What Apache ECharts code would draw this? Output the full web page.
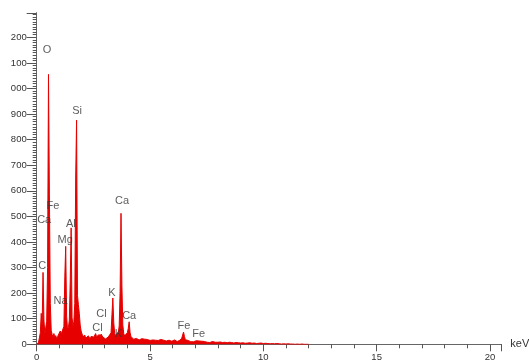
<!DOCTYPE html>
<html>
<head>
<meta charset="utf-8">
<script src="https://cdn.jsdelivr.net/npm/echarts@6/dist/echarts.min.js"></script>
<style>
  html, body { margin: 0; padding: 0; background: #fff; overflow: hidden; width: 529px; height: 360px; }
  #chart { position: absolute; left: 11px; top: 0; width: 518px; height: 360px; }
</style>
</head>
<body>
<div id="chart"></div>
<script>
// EDS spectrum: counts per channel, channels 0.04 keV wide from 0 to 8 keV
const lowStartKeV = 0;
const lowStepKeV = 0.04;
const countsLow = [
  0, 0, 8, 25, 45, 121, 70, 281, 95, 40,
  35, 90, 300, 1055, 587, 160, 55, 38, 30, 42,
  26, 34, 22, 30, 25, 36, 52, 40, 33, 45,
  70, 264, 383, 110, 58, 66, 95, 251, 455, 105,
  72, 88, 160, 650, 876, 190, 155, 120, 75, 52,
  40, 34, 28, 36, 24, 30, 22, 33, 26, 20,
  31, 25, 35, 28, 32, 42, 30, 26, 34, 38,
  30, 40, 33, 28, 24, 30, 21, 27, 23, 29,
  25, 34, 45, 115, 181, 85, 42, 34, 30, 38,
  45, 72, 205, 512, 230, 75, 42, 33, 28, 36,
  45, 62, 88, 46, 30, 24, 28, 20, 25, 18,
  23, 19, 24, 17, 21, 16, 22, 18, 15, 20,
  17, 14, 19, 16, 21, 15, 18, 13, 17, 20,
  14, 16, 12, 18, 15, 13, 17, 19, 14, 12,
  16, 14, 18, 13, 15, 11, 16, 20, 14, 12,
  15, 13, 17, 12, 14, 11, 15, 13, 16, 19,
  24, 36, 48, 30, 18, 14, 12, 15, 11, 13,
  10, 12, 14, 10, 12, 11, 14, 16, 19, 13,
  11, 9, 12, 10, 8, 11, 9, 12, 8, 10,
  9, 7, 10, 8, 11, 7, 9, 8, 10, 7,
  8
];
// High-energy tail, 0.1 keV channels from 8.1 to 12.0 keV
const tailStartKeV = 8.1;
const tailStepKeV = 0.1;
const countsTail = [
  9, 7, 8, 6, 8, 7, 5, 7, 6, 5,
  6, 4, 5, 6, 4, 5, 3, 4, 5, 3,
  4, 3, 2, 3, 2, 3, 2, 1, 2, 1,
  2, 1, 1, 0, 1, 0, 1, 0, 0, 0
];

// Element labels and where they sit (keV, counts)
const peakNames  = ['O', 'Si', 'Fe', 'Ca', 'Al', 'Mg', 'C', 'Na', 'K', 'Cl', 'Ca', 'Cl', 'K', 'Ca', 'Fe', 'Fe'];
const peakKeV    = [0.46, 1.78, 0.72, 0.33, 1.51, 1.26, 0.24, 1.05, 3.32, 2.86, 4.08, 2.68, 3.61, 3.77, 6.50, 7.15];
const peakCounts = [1150, 911, 540, 485, 470, 407, 307, 169, 199, 117, 112, 62, 40, 560, 73, 40];

const xMin = 0, xMax = 20.5, xInterval = 5;
const yMin = 0, yMax = 1295, yInterval = 100;

const spectrum = [];
countsLow.forEach((c, i) => spectrum.push([+(lowStartKeV + i * lowStepKeV).toFixed(2), c]));
countsTail.forEach((c, i) => spectrum.push([+(tailStartKeV + i * tailStepKeV).toFixed(2), c]));

const peakLabels = peakNames.map((n, i) => ({ value: [peakKeV[i], peakCounts[i]], name: n }));

const red = '#e60000';
const axisColor = '#555';
const textColor = '#333';
const fontFamily = '"Liberation Sans", Arial, sans-serif';

const chart = echarts.init(document.getElementById('chart'), null, { renderer: 'canvas' });
chart.setOption({
  animation: false,
  backgroundColor: '#fff',
  grid: { left: 25.7, right: 27.7, top: 13, bottom: 15.7, containLabel: false, outerBoundsMode: 'none' },
  xAxis: [{
    type: 'value', min: xMin, max: xMax, interval: xInterval,
    name: 'keV', nameLocation: 'end', nameGap: 9,
    nameTextStyle: { color: textColor, fontSize: 11, fontFamily, padding: [0, 0, 8, 0] },
    axisLine: { show: true, lineStyle: { color: axisColor, width: 1 } },
    axisTick: { show: true, length: 7, lineStyle: { color: axisColor } },
    minorTick: { show: true, splitNumber: 5, length: 4, lineStyle: { color: axisColor } },
    axisLabel: { color: textColor, fontSize: 9.5, fontFamily, margin: 8, showMaxLabel: false, formatter: v => String(v) },
    splitLine: { show: false }
  }, {
    type: 'value', position: 'top', min: xMin, max: xMax,
    axisLine: { show: true, lineStyle: { color: '#666', width: 1 } },
    axisTick: { show: false }, axisLabel: { show: false }, splitLine: { show: false }
  }],
  yAxis: [{
    type: 'value', min: yMin, max: yMax, interval: yInterval,
    axisLine: { show: true, lineStyle: { color: axisColor, width: 1 } },
    axisTick: { show: true, length: 10, lineStyle: { color: axisColor } },
    minorTick: { show: true, splitNumber: 10, length: 4, lineStyle: { color: axisColor } },
    axisLabel: { color: textColor, fontSize: 9.5, fontFamily, margin: 10, showMaxLabel: false, formatter: v => String(v) },
    splitLine: { show: false }
  }, {
    type: 'value', position: 'right', offset: 5.4, min: 0, max: 1,
    axisLine: { show: true, lineStyle: { color: '#666', width: 1 } },
    axisTick: { show: false }, axisLabel: { show: false }, splitLine: { show: false }
  }],
  series: [{
    type: 'line',
    data: spectrum,
    symbol: 'none',
    sampling: null,
    lineStyle: { color: red, width: 1 },
    areaStyle: { color: red, opacity: 1 },
    z: 2
  }, {
    type: 'scatter',
    data: peakLabels,
    symbolSize: 0,
    silent: true,
    label: {
      show: true, position: 'inside',
      formatter: p => p.name,
      color: textColor, fontSize: 11, fontFamily
    },
    z: 3
  }]
});
</script>
</body>
</html>
